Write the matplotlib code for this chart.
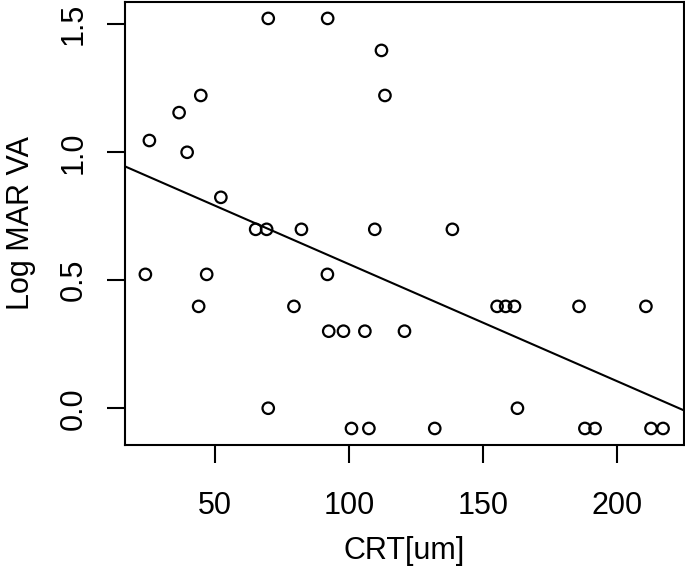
import matplotlib
matplotlib.use("Agg")
import matplotlib.pyplot as plt
import numpy as np

plt.rcParams['font.family'] = ['Liberation Sans', 'DejaVu Sans']

# CRT [um] vs Log MAR VA
crt = [23.9, 25.4, 36.5, 39.5, 43.8, 44.6, 46.8, 52.1, 65.1, 69.2,
       69.8, 69.8, 79.4, 82.2, 91.9, 92.0, 92.4, 97.9, 100.9, 105.9,
       107.4, 109.6, 112.1, 113.4, 120.7, 132.0, 138.6, 155.3, 158.5, 161.8,
       162.9, 185.9, 188.1, 191.9, 210.9, 212.8, 217.3]
logmar = [0.523, 1.046, 1.155, 1.0, 0.398, 1.222, 0.523, 0.824, 0.699, 0.699,
          1.523, 0.0, 0.398, 0.699, 0.523, 1.523, 0.301, 0.301, -0.079, 0.301,
          -0.079, 0.699, 1.398, 1.222, 0.301, -0.079, 0.699, 0.398, 0.398, 0.398,
          0.0, 0.398, -0.079, -0.079, 0.398, -0.079, -0.079]

xticks = [50, 100, 150, 200]
yticks = [0.0, 0.5, 1.0, 1.5]


def r_limits(v):
    # base R pads the data range by 4% on each side
    lo, hi = min(v), max(v)
    d = (hi - lo) * 0.04
    return lo - d, hi + d


x = np.array(crt)
y = np.array(logmar)
slope, icpt = np.polyfit(x, y, 1)

fig = plt.figure(figsize=(6.85, 5.77), dpi=100)
ax = fig.add_axes([0.182, 0.229, 0.8162, 0.7675])

ax.scatter(x, y, s=68, facecolors='none', edgecolors='black', linewidths=1.6, zorder=3)

xl = r_limits(crt)
ax.set_xlim(xl)
ax.set_ylim(r_limits(logmar))
ax.plot(xl, [icpt + slope * xl[0], icpt + slope * xl[1]], color='black', lw=1.5)

ax.set_xticks(xticks)
ax.set_xticklabels([str(t) for t in xticks])
ax.set_yticks(yticks)
ax.set_yticklabels(['%.1f' % t for t in yticks], rotation=90, va='center')

ax.tick_params(axis='both', direction='out', length=13, width=1.5, labelsize=22, colors='black')
ax.tick_params(axis='x', pad=20)
ax.tick_params(axis='y', pad=13)
for s in ax.spines.values():
    s.set_linewidth(1.5)

ax.set_xlabel('CRT[um]', fontsize=22, labelpad=11)
ax.set_ylabel('Log MAR VA', fontsize=22, labelpad=16)

fig.savefig('out.png', dpi=100)
